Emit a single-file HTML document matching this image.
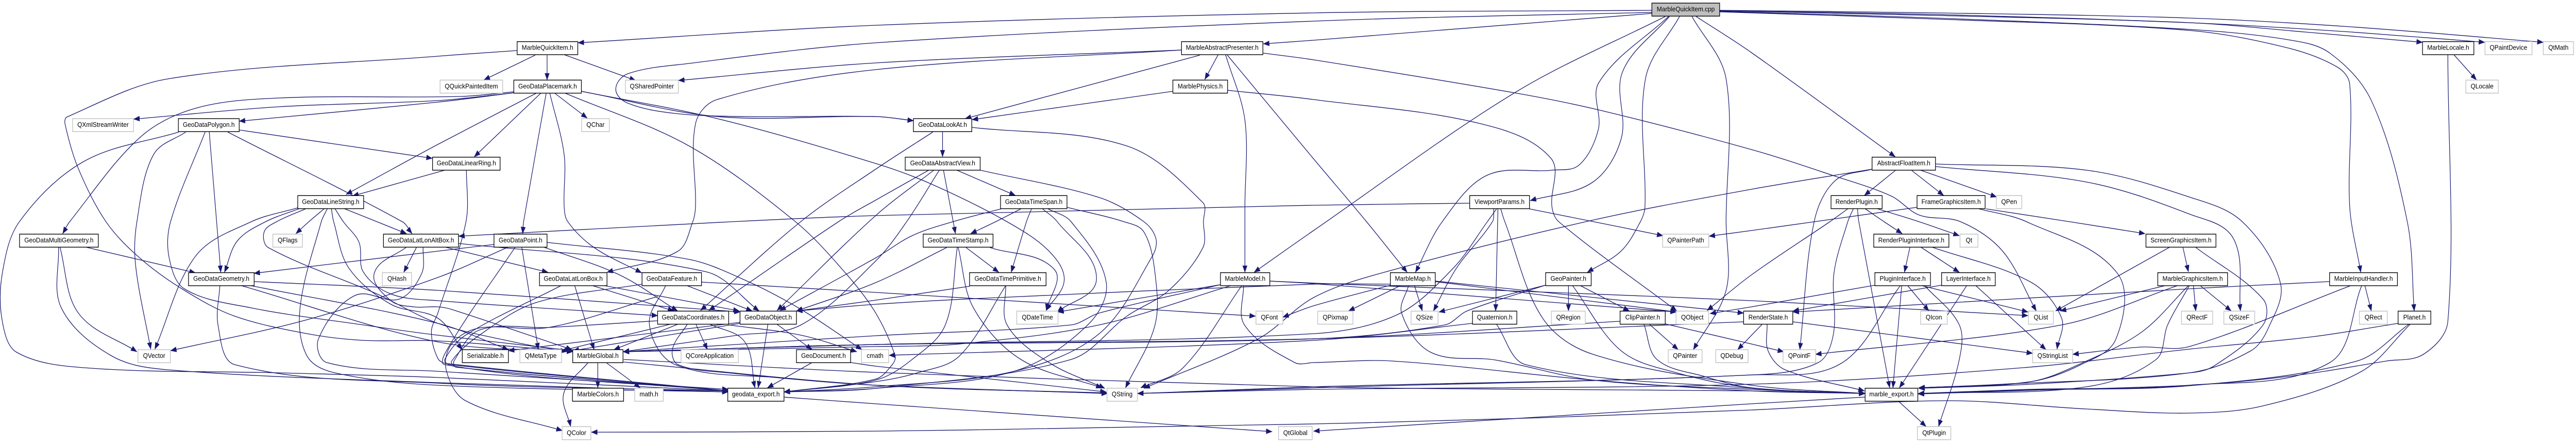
<!DOCTYPE html>
<html><head><meta charset="utf-8"><title>MarbleQuickItem.cpp include graph</title>
<style>
html,body{margin:0;padding:0;background:#fff;width:100%;height:100%;overflow:hidden}
svg{display:block;width:100vw;height:100vh}
text{font-family:"Liberation Sans",sans-serif;font-size:13.33px;text-anchor:middle;fill:#000}
.n{fill:#fff;stroke:#000;stroke-width:1.4}
.x{fill:#fff;stroke:#bfbfbf;stroke-width:1.4}
.r{fill:#bfbfbf;stroke:#000;stroke-width:1.4}
#e path{fill:none;stroke:#191970;stroke-width:1.33;marker-end:url(#a)}
</style></head><body>
<svg xmlns="http://www.w3.org/2000/svg" viewBox="0 0 5589 859" preserveAspectRatio="none">
<defs><marker id="a" markerUnits="userSpaceOnUse" markerWidth="14" markerHeight="11" refX="13" refY="5" orient="auto"><path d="M0 0L13 5L0 10z" fill="#191970" stroke="#191970" stroke-width="0.5"/></marker></defs>
<g id="e"></g>
<g>
<rect class="r" x="3584" y="6" width="147" height="25.3"/><text x="3657.5" y="22">MarbleQuickItem.cpp</text>
<rect class="n" x="1122" y="80.7" width="131.6" height="25.3"/><text x="1187.8" y="96.7">MarbleQuickItem.h</text>
<rect class="n" x="2563.5" y="80.7" width="176.5" height="25.3"/><text x="2651.7" y="96.7">MarbleAbstractPresenter.h</text>
<rect class="n" x="5256" y="80.7" width="111.4" height="25.3"/><text x="5311.7" y="96.7">MarbleLocale.h</text>
<rect class="x" x="5391.5" y="80.7" width="102" height="25.3"/><text x="5442.5" y="96.7">QPaintDevice</text>
<rect class="x" x="5518" y="80.7" width="65.6" height="25.3"/><text x="5550.8" y="96.7">QtMath</text>
<rect class="x" x="954.8" y="155.3" width="135.8" height="25.3"/><text x="1022.7" y="171.3">QQuickPaintedItem</text>
<rect class="n" x="1114.8" y="155.3" width="146.6" height="25.3"/><text x="1188.1" y="171.3">GeoDataPlacemark.h</text>
<rect class="x" x="1357" y="155.3" width="114.7" height="25.3"/><text x="1414.3" y="171.3">QSharedPointer</text>
<rect class="n" x="2544.7" y="155.3" width="118.7" height="25.3"/><text x="2604" y="171.3">MarblePhysics.h</text>
<rect class="x" x="5350" y="155.3" width="70.4" height="25.3"/><text x="5385.2" y="171.3">QLocale</text>
<rect class="x" x="157.5" y="230" width="132.1" height="25.3"/><text x="223.5" y="246">QXmlStreamWriter</text>
<rect class="n" x="387" y="230" width="132" height="25.3"/><text x="453" y="246">GeoDataPolygon.h</text>
<rect class="x" x="1262" y="230" width="60" height="25.3"/><text x="1292" y="246">QChar</text>
<rect class="n" x="1981.8" y="230" width="126.6" height="25.3"/><text x="2045.1" y="246">GeoDataLookAt.h</text>
<rect class="n" x="938.5" y="304.7" width="146.5" height="25.3"/><text x="1011.8" y="320.7">GeoDataLinearRing.h</text>
<rect class="n" x="1964" y="304.7" width="162.6" height="25.3"/><text x="2045.3" y="320.7">GeoDataAbstractView.h</text>
<rect class="n" x="4061.7" y="304.7" width="137.6" height="25.3"/><text x="4130.5" y="320.7">AbstractFloatItem.h</text>
<rect class="n" x="646" y="379.3" width="143" height="25.3"/><text x="717.5" y="395.3">GeoDataLineString.h</text>
<rect class="n" x="2170.8" y="379.3" width="144.2" height="25.3"/><text x="2242.9" y="395.3">GeoDataTimeSpan.h</text>
<rect class="n" x="3188.7" y="379.3" width="129.7" height="25.3"/><text x="3253.5" y="395.3">ViewportParams.h</text>
<rect class="n" x="3972.7" y="379.3" width="110.9" height="25.3"/><text x="4028.2" y="395.3">RenderPlugin.h</text>
<rect class="n" x="4159.3" y="379.3" width="147.7" height="25.3"/><text x="4233.2" y="395.3">FrameGraphicsItem.h</text>
<rect class="x" x="4331.4" y="379.3" width="55.1" height="25.3"/><text x="4359" y="395.3">QPen</text>
<rect class="n" x="42.4" y="454" width="170.9" height="25.3"/><text x="127.8" y="470">GeoDataMultiGeometry.h</text>
<rect class="x" x="592" y="454" width="64" height="25.3"/><text x="624" y="470">QFlags</text>
<rect class="n" x="832" y="454" width="162.8" height="25.3"/><text x="913.4" y="470">GeoDataLatLonAltBox.h</text>
<rect class="n" x="1071.8" y="454" width="115.1" height="25.3"/><text x="1129.3" y="470">GeoDataPoint.h</text>
<rect class="n" x="2003" y="454" width="151.5" height="25.3"/><text x="2078.7" y="470">GeoDataTimeStamp.h</text>
<rect class="x" x="3607.4" y="454" width="100" height="25.3"/><text x="3657.4" y="470">QPainterPath</text>
<rect class="n" x="4065.4" y="454" width="163" height="25.3"/><text x="4146.9" y="470">RenderPluginInterface.h</text>
<rect class="x" x="4252.6" y="454" width="38.8" height="25.3"/><text x="4272" y="470">Qt</text>
<rect class="n" x="4656" y="454" width="151.8" height="25.3"/><text x="4731.9" y="470">ScreenGraphicsItem.h</text>
<rect class="n" x="409" y="528.7" width="142.4" height="25.3"/><text x="480.2" y="544.7">GeoDataGeometry.h</text>
<rect class="x" x="829.5" y="528.7" width="63.5" height="25.3"/><text x="861.2" y="544.7">QHash</text>
<rect class="n" x="1170.5" y="528.7" width="146.5" height="25.3"/><text x="1243.7" y="544.7">GeoDataLatLonBox.h</text>
<rect class="n" x="1393" y="528.7" width="129" height="25.3"/><text x="1457.5" y="544.7">GeoDataFeature.h</text>
<rect class="n" x="2103.6" y="528.7" width="166" height="25.3"/><text x="2186.6" y="544.7">GeoDataTimePrimitive.h</text>
<rect class="n" x="2648" y="528.7" width="107" height="25.3"/><text x="2701.5" y="544.7">MarbleModel.h</text>
<rect class="n" x="3016.6" y="528.7" width="97.4" height="25.3"/><text x="3065.3" y="544.7">MarbleMap.h</text>
<rect class="n" x="3353.5" y="528.7" width="98.8" height="25.3"/><text x="3402.9" y="544.7">GeoPainter.h</text>
<rect class="n" x="4067.8" y="528.7" width="120.6" height="25.3"/><text x="4128.1" y="544.7">PluginInterface.h</text>
<rect class="n" x="4212.6" y="528.7" width="116.4" height="25.3"/><text x="4270.8" y="544.7">LayerInterface.h</text>
<rect class="n" x="4681.6" y="528.7" width="151.4" height="25.3"/><text x="4757.3" y="544.7">MarbleGraphicsItem.h</text>
<rect class="n" x="5054.4" y="528.7" width="147.2" height="25.3"/><text x="5128" y="544.7">MarbleInputHandler.h</text>
<rect class="n" x="1426.8" y="603.3" width="154.2" height="25.3"/><text x="1503.9" y="619.3">GeoDataCoordinates.h</text>
<rect class="n" x="1605.6" y="603.3" width="122.4" height="25.3"/><text x="1666.8" y="619.3">GeoDataObject.h</text>
<rect class="x" x="2206" y="603.3" width="89.6" height="25.3"/><text x="2250.8" y="619.3">QDateTime</text>
<rect class="x" x="2725" y="603.3" width="58.4" height="25.3"/><text x="2754.2" y="619.3">QFont</text>
<rect class="x" x="2859" y="603.3" width="76.4" height="25.3"/><text x="2897.2" y="619.3">QPixmap</text>
<rect class="x" x="3061.5" y="603.3" width="58.5" height="25.3"/><text x="3090.7" y="619.3">QSize</text>
<rect class="n" x="3194.8" y="603.3" width="96.2" height="25.3"/><text x="3242.9" y="619.3">Quaternion.h</text>
<rect class="x" x="3366" y="603.3" width="73.5" height="25.3"/><text x="3402.7" y="619.3">QRegion</text>
<rect class="n" x="3515" y="603.3" width="98" height="25.3"/><text x="3564" y="619.3">ClipPainter.h</text>
<rect class="x" x="3636.5" y="603.3" width="70.5" height="25.3"/><text x="3671.7" y="619.3">QObject</text>
<rect class="n" x="3783" y="603.3" width="106.7" height="25.3"/><text x="3836.3" y="619.3">RenderState.h</text>
<rect class="x" x="4167" y="603.3" width="57.7" height="25.3"/><text x="4195.8" y="619.3">QIcon</text>
<rect class="x" x="4401" y="603.3" width="54" height="25.3"/><text x="4428" y="619.3">QList</text>
<rect class="x" x="4733" y="603.3" width="67.8" height="25.3"/><text x="4766.9" y="619.3">QRectF</text>
<rect class="x" x="4825" y="603.3" width="67" height="25.3"/><text x="4858.5" y="619.3">QSizeF</text>
<rect class="x" x="5119" y="603.3" width="60.6" height="25.3"/><text x="5149.3" y="619.3">QRect</text>
<rect class="n" x="5203" y="603.3" width="71" height="25.3"/><text x="5238.5" y="619.3">Planet.h</text>
<rect class="x" x="299.3" y="678" width="70.3" height="25.3"/><text x="334.4" y="694">QVector</text>
<rect class="n" x="1003" y="678" width="100" height="25.3"/><text x="1053" y="694">Serializable.h</text>
<rect class="x" x="1128" y="678" width="90.4" height="25.3"/><text x="1173.2" y="694">QMetaType</text>
<rect class="n" x="1242.6" y="678" width="109.1" height="25.3"/><text x="1297.1" y="694">MarbleGlobal.h</text>
<rect class="x" x="1477.7" y="678" width="124.3" height="25.3"/><text x="1539.8" y="694">QCoreApplication</text>
<rect class="n" x="1728" y="678" width="117.5" height="25.3"/><text x="1786.7" y="694">GeoDocument.h</text>
<rect class="x" x="1869" y="678" width="59" height="25.3"/><text x="1898.5" y="694">cmath</text>
<rect class="x" x="3619.5" y="678" width="73.3" height="25.3"/><text x="3656.1" y="694">QPainter</text>
<rect class="x" x="3722.5" y="678" width="70.3" height="25.3"/><text x="3757.6" y="694">QDebug</text>
<rect class="x" x="3868.5" y="678" width="70.9" height="25.3"/><text x="3904" y="694">QPointF</text>
<rect class="x" x="4410" y="678" width="86.8" height="25.3"/><text x="4453.4" y="694">QStringList</text>
<rect class="n" x="1242" y="752.7" width="111" height="25.3"/><text x="1297.5" y="768.7">MarbleColors.h</text>
<rect class="x" x="1377" y="752.7" width="62" height="25.3"/><text x="1408" y="768.7">math.h</text>
<rect class="n" x="1579" y="752.7" width="122" height="25.3"/><text x="1640" y="768.7">geodata_export.h</text>
<rect class="x" x="2401.7" y="752.7" width="66" height="25.3"/><text x="2434.7" y="768.7">QString</text>
<rect class="n" x="4046.6" y="752.7" width="114.4" height="25.3"/><text x="4103.8" y="768.7">marble_export.h</text>
<rect class="x" x="1219.6" y="827.3" width="62.4" height="25.3"/><text x="1250.8" y="843.3">QColor</text>
<rect class="x" x="2774" y="827.3" width="73" height="25.3"/><text x="2810.5" y="843.3">QtGlobal</text>
<rect class="x" x="4160" y="827.3" width="72.6" height="25.3"/><text x="4196.3" y="843.3">QtPlugin</text>
</g>
</svg>
<script>
var E=[
"3584,20 2850,25 1900,49 1254,83",
"3584,24 2850,41 1900,83 1495,123 1362,143 1336,173 1362,200 1465,220 1617,226 1900,226 1982,234",
"3584,26 2850,78 2741,85",
"3622,32 3520,140 3518,267 3456,353 3320,389",
"3620,32 3469,160 3468,250 3426,320 3367,330 3226,340 3129,430 3071,528",
"3613,32 3286,180 2850,447 2721,528",
"3644,32 3570,153 3569,400 3559,430 3517,487 3444,528",
"3671,32 3745,153 3745,430 3745,563 3674,678",
"3680,32 3800,102 4112,304",
"3731,20 4200,25 4750,35 5100,52 5518,82",
"3731,21 4200,28 4750,44 5100,62 5391,82",
"3731,21 4200,30 4750,44 5000,62 5256,82",
"3731,22 4200,35 4750,57 4964,77 5055,103 5146,197 5223,430 5238,603",
"3731,23 4200,37 4750,59 4964,93 5071,130 5098,163 5098,400 5122,528",
"2563,97 1900,122 1472,156",
"2563,97 1900,135 1556,193 1509,240 1509,400 1503,430 1471,487 1317,528",
"2741,103 2850,116 3286,180 3468,213 3800,290 3976,340 4103,380 4164,417 4254,430 4345,487 4418,603",
"2663,107 2850,308 2965,430 3053,528",
"2659,106 2701,233 2701,400 2701,528",
"2643,106 2614,154",
"2603,107 2094,230",
"2663,175 2850,193 3213,240 3365,307 3367,400 3382,430 3638,603",
"2545,177 2109,232",
"1122,98 950,109 364,153 145,227 141,240 170,327 230,430 303,500 400,563 509,613 666,647 788,660 950,661 1243,682",
"1161,107 1050,155",
"1187,107 1187,155",
"1224,106 1379,156",
"1115,180 950,195 606,207 290,231",
"1115,180 950,198 519,235",
"1115,178 1000,187 606,190 424,210 303,267 151,430 136,453",
"1163,181 950,280 751,377",
"1173,181 1029,304",
"1185,181 1136,430 1134,453",
"1193,181 1224,300 1224,400 1232,430 1289,480 1392,529",
"1204,181 1274,229",
"1227,181 1495,283 1726,430 1835,530 1900,607 1942,690 1936,707 1900,735 1701,760",
"1261,177 1556,226 1900,226 1982,234",
"1261,177 1556,230 1900,317 2021,357 2185,430 2276,487 2309,543 2270,602",
"519,252 938,307",
"494,256 873,430 894,453",
"454,256 470,430 479,528",
"445,256 370,430 367,500 400,560 545,597 788,630 950,650 1243,680",
"403,256 333,300 297,430 294,513 327,677",
"388,256 182,313 42,430 5,530 5,623 36,683 182,713 606,723 950,732 1580,758",
"646,403 545,430 424,497 336,677",
"651,404 576,430 515,467 487,528",
"663,405 600,430 573,450 582,480 818,570 950,627 1114,663 1229,682",
"703,405 670,430 642,453",
"710,405 697,430 651,597 666,690 727,723 950,747 1580,760",
"719,405 724,430 757,520 848,590 950,617 1003,678",
"727,405 745,430 779,470 788,527 848,570 950,583 1427,612",
"748,405 818,430 882,453",
"965,330 765,380",
"1012,330 1011,430 950,607 936,643 950,695 970,705 1580,758",
"185,479 424,529",
"130,479 170,607 297,682",
"127,479 133,597 242,690 364,717 950,742 1580,760",
"551,546 950,563 1606,605",
"545,554 950,627 1103,678",
"524,554 950,663 1243,682",
"477,554 473,630 509,707 950,743 1580,758",
"904,479 876,528",
"918,479 915,530 866,580 770,573 691,657 709,703 950,720 1580,755",
"882,479 812,530 848,583 897,595 950,595 980,600 1241,678",
"995,472 1532,527 1647,603",
"965,479 1189,528",
"1103,479 950,538 666,620 370,680",
"1072,474 950,487 551,530",
"1118,479 980,663 965,707 1580,758",
"1132,479 1168,678",
"1179,479 1344,533 1470,603",
"1187,470 1495,503 1616,543 1738,600 1870,678",
"1217,554 1010,650 965,697 975,707 1580,758",
"1247,554 1289,678",
"1286,554 1462,603",
"1312,554 1604,603",
"1393,551 1162,587 1040,650 980,700 990,712 1580,758",
"1427,575 1190,635 1040,636 980,667 968,717 1010,777 1220,835",
"1426,622 1190,635 1040,640 985,700 990,712 1580,758",
"1444,554 1409,630 1465,707 1700,733 1900,747 2403,763",
"1491,554 1632,603",
"1522,547 1900,567 2724,613",
"1453,629 1219,680",
"1470,629 1332,678",
"1491,629 1459,677 1471,707 1580,723 1900,747 2403,763",
"1510,629 1535,678",
"1541,629 1616,663 1638,752",
"1581,630 1738,650 1859,682",
"1666,629 1645,752",
"1686,629 1762,678",
"1606,625 1103,680",
"1606,627 1243,680",
"1276,703 1223,763 1238,827",
"1297,703 1297,752",
"1315,703 1389,752",
"1353,697 1900,722 2850,750 3325,755 3800,758 4046,763",
"1353,702 1900,747 2403,762",
"1846,703 1900,710 2400,760",
"1762,703 1665,752",
"1701,770 1900,783 2760,837",
"5229,629 5124,720 4910,787 4750,801 4526,793 4224,777 3800,795 3344,810 2850,822 1900,836 1283,838",
"4046,770 3800,783 2850,836",
"4119,778 4179,827",
"3189,394 2850,398 1900,418 1586,430 995,458",
"3318,405 3447,428 3608,457",
"3247,405 3227,430 3153,520 3032,610 2850,647 1900,668 1352,682",
"3241,405 3238,430 3160,520 3110,603",
"3250,405 3245,603",
"3256,405 3265,430 3347,617 3456,687 3800,747 4047,763",
"3195,627 2850,660 1929,689",
"3247,629 3310,707 3800,753 4047,763",
"3353,553 3122,605",
"3353,553 3183,603 3135,630 2850,657 1900,668 1352,682",
"3403,554 3403,603",
"3429,554 3535,603",
"3412,554 3517,680 3638,723 3800,752 4047,763",
"3515,623 2850,657 1900,668 1352,682",
"3579,629 3641,678",
"3567,629 3595,697 3698,730 3800,752 4047,763",
"3613,628 3800,667 3870,682",
"3783,624 2850,657 1900,668 1352,682",
"3823,629 3770,678",
"3834,629 3836,680 3873,717 4045,758",
"3890,624 4410,685",
"2648,552 2295,605",
"2648,552 2385,607 2324,630 1900,651 1352,682",
"2670,554 2385,630 2082,667 1900,672 1352,682",
"2694,554 2567,713 2475,752",
"2698,554 2700,630 2809,703 2850,703 3020,700 3456,737 3800,758 4047,763",
"2755,545 2850,549 3800,583 4400,612",
"2755,545 2850,550 3637,605",
"3114,545 3783,607",
"3114,546 3638,605",
"3017,553 2850,593 2783,615",
"3017,551 2850,551 2142,578 1900,590 1728,603",
"3038,554 2926,603",
"3069,554 3086,603",
"3056,554 3041,607 3104,683 3244,698 3456,737 3800,755 4047,763",
"4062,328 3800,367 3450,428 2995,530 2850,577 2730,657 2482,753",
"4062,328 3982,350 3936,430 3905,678",
"4113,330 4045,379",
"4147,330 4217,379",
"4167,330 4332,382",
"4200,318 4527,330 4750,382 4865,430 4948,550 4921,637 4884,680 4750,723 4345,745 4163,752",
"4200,323 4527,353 4750,415 4846,463 4861,603",
"4009,405 3970,430 3800,533 3704,602",
"4021,405 4009,430 3979,530 3978,647 3945,703 3800,727 2850,750 2468,763",
"4030,405 4033,430 4100,752",
"4047,405 4088,430 4127,453",
"4074,405 4164,430 4251,457",
"4159,402 3936,430 3800,447 3708,458",
"4294,405 4397,430 4594,530 4591,657 4515,707 4406,740 4163,752",
"4309,405 4491,430 4654,453",
"4144,479 4132,528",
"4167,479 4251,528",
"4191,479 4406,547 4473,617 4463,677",
"4068,553 3800,595 3710,608",
"4123,554 3994,705 3800,727 2850,752 2468,763",
"4126,554 4107,752",
"4139,554 4185,603",
"4170,554 4400,605",
"4176,554 4251,630 4251,697 4206,827",
"4212,553 3890,603",
"4267,554 4121,752",
"4287,554 4439,678",
"4708,479 4460,603",
"4736,479 4748,527",
"4763,479 4910,580 4910,630 4803,710 4750,723 4406,745 4163,753",
"4697,554 4470,603",
"4724,554 4473,630 3939,687",
"4748,554 4648,643 4527,700 4406,740 4163,752",
"4750,554 4703,630 4678,697 4527,750 4176,763 4162,764",
"5054,546 4750,560 3890,605",
"4759,554 4764,603",
"4774,554 4841,603",
"5100,554 4750,672 4644,673 4497,687",
"5124,554 5055,703 4750,747 4400,755 4162,763",
"5131,554 5145,603",
"5203,627 5017,653 4750,677 4389,713 3800,745 2850,755 2468,763",
"5226,629 5114,700 4750,748 4400,756 4162,763",
"5324,106 5373,155",
"5311,106 5311,623 5258,687 5178,700 4964,730 4750,747 4400,757 4162,764",
"2024,256 1900,328 1737,430 1520,602",
"2015,330 1900,388 1819,430 1538,602",
"2026,330 1900,418 1686,602",
"2038,330 1967,430 1900,506 1738,630 1600,650 1352,682",
"2047,330 2073,453",
"2076,330 2203,379",
"2127,330 2385,383 2482,430 2508,463 2500,497 2385,647 2200,720 1900,750 1701,760",
"2045,256 2045,304",
"2109,247 2445,283 2610,393 2611,430 2610,480 2536,563 2445,613 2324,697 1900,753 1701,760",
"2172,405 2067,430 1979,457 1900,500 1692,602",
"2215,405 2160,430 2106,453",
"2238,405 2227,430 2194,528",
"2262,405 2294,430 2379,540 2294,605",
"2274,405 2324,430 2400,547 2360,630 2200,720 1900,753 1701,760",
"2315,402 2439,430 2482,450 2506,530 2506,630 2442,752",
"2054,480 1900,548 1728,603",
"2096,480 2167,528",
"2148,480 2288,523 2270,602",
"2077,480 2051,630 1979,697 1900,737 1701,760",
"2079,480 2112,597 2215,697 2391,752",
"2104,555 1900,582 1728,603",
"2182,554 2082,690 1990,723 1900,740 1701,760",
"2182,554 2185,630 2276,703 2397,753"
];
var g=document.getElementById('e'),NS='http://www.w3.org/2000/svg';
E.forEach(function(s){
 var P=s.split(' ').map(function(q){return q.split(',').map(Number)}),n=P.length,T=[],i;
 for(i=0;i<n;i++){var a=P[Math.max(i-1,0)],b=P[Math.min(i+1,n-1)],dx=b[0]-a[0],dy=b[1]-a[1],l=Math.hypot(dx,dy)||1;T.push([dx/l,dy/l]);}
 var d='M'+P[0][0]+' '+P[0][1];
 for(i=0;i<n-1;i++){var L=Math.hypot(P[i+1][0]-P[i][0],P[i+1][1]-P[i][1])/3;
  d+='C'+(P[i][0]+T[i][0]*L).toFixed(1)+' '+(P[i][1]+T[i][1]*L).toFixed(1)+' '+(P[i+1][0]-T[i+1][0]*L).toFixed(1)+' '+(P[i+1][1]-T[i+1][1]*L).toFixed(1)+' '+P[i+1][0]+' '+P[i+1][1];}
 var p=document.createElementNS(NS,'path');p.setAttribute('d',d);g.appendChild(p);
});
</script>
</body></html>
